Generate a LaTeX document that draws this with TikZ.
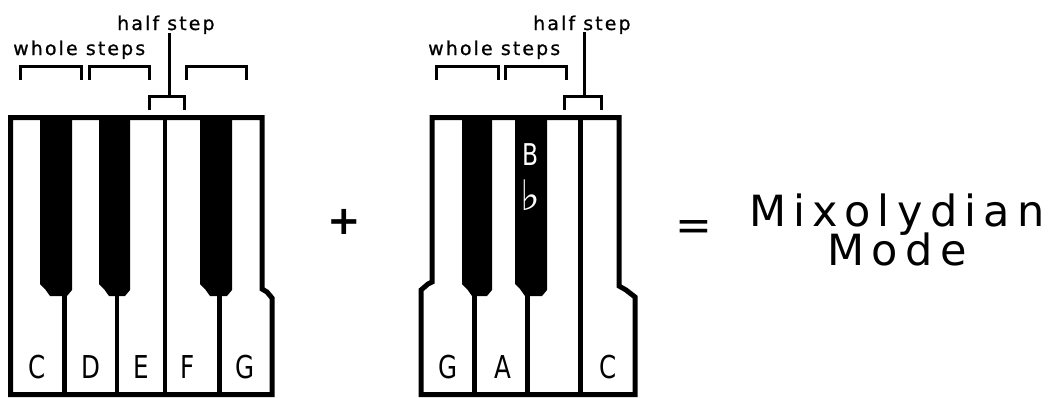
\documentclass[tikz,border=0pt]{standalone}
\usepackage{fontspec}
\setmainfont{DejaVu Sans}
\newfontfamily\stepfont[LetterSpace=11,FakeBold=0.8]{DejaVu Sans}
\newfontfamily\keyfont[FakeStretch=0.78]{DejaVu Sans}
\newfontfamily\bigfont[LetterSpace=17]{DejaVu Sans}
\newfontfamily\plainfont{DejaVu Sans}
\tikzset{
  frame/.style={line width=5pt, fill=white, line join=miter},
  divider/.style={line width=4.5pt},
  blackkey/.style={fill=black, draw=none},
  bracket/.style={line width=3pt, line join=miter},
  steplabel/.style={inner sep=0pt, anchor=base west, font=\stepfont\fontsize{19}{22}\selectfont},
  keylabel/.style={inner sep=0pt, anchor=base, font=\keyfont\fontsize{31.5}{34}\selectfont},
}
\begin{document}
\begin{tikzpicture}[x=1pt,y=-1pt]
\useasboundingbox[fill=white] (0,0) rectangle (1057,397);

% ---------- left keyboard ----------
\draw[frame] (10.5,117.5) -- (262,117.5) -- (262,289) -- (267,292) -- (272,298)
   -- (272,394.5) -- (10.5,394.5) -- cycle;
\draw[divider] (165,117.5) -- (165,394.5);
\draw[divider] (64.5,290) -- (64.5,394.5);
\draw[divider] (117,290) -- (117,394.5);
\draw[divider] (219.5,290) -- (219.5,394.5);
% black keys
\foreach \L/\R in {40/72, 99/130, 200/232}{
  \fill[blackkey] (\L,117.5) -- (\L,284) -- (\L+5,289) -- (\L+10,296) -- (\R-5,296)
     -- (\R,290) -- (\R,117.5) -- cycle;
}
\node[keylabel] (lC) at (37,378) {C};
\node[keylabel] (lD) at (91,378) {D};
\node[keylabel] (lE) at (141,378) {E};
\node[keylabel] (lF) at (188,378) {F};
\node[keylabel] (lG) at (245,378) {G};

% brackets left
\draw[bracket] (20,80) -- (20,66.5) -- (81,66.5) -- (81,80);
\draw[bracket] (89,80) -- (89,66.5) -- (149.5,66.5) -- (149.5,80);
\draw[bracket] (186,80) -- (186,66.5) -- (246.5,66.5) -- (246.5,80);
\draw[bracket] (149.3,110) -- (149.3,96.5) -- (184.5,96.5) -- (184.5,110);
\draw[bracket] (169.5,33) -- (169.5,96.5);
\node[steplabel] (lwhole) at (13,55) {whole steps};
\node[steplabel] (lhalf) at (117,30) {half step};

% plus
\node[inner sep=0pt, font=\plainfont\bfseries\fontsize{40}{44}\selectfont] (plus) at (344,222) {+};

% ---------- right keyboard ----------
\draw[frame] (432,117.5) -- (619,117.5) -- (619,286) -- (626,290) -- (635,297)
   -- (635,394.5) -- (421,394.5) -- (421,290) -- (428,284) -- (432,282) -- cycle;
\draw[divider] (580.5,117.5) -- (580.5,394.5);
\draw[divider] (474.5,290) -- (474.5,394.5);
\draw[divider] (527.5,290) -- (527.5,394.5);
\foreach \L/\R in {462/492, 515/547}{
  \fill[blackkey] (\L,117.5) -- (\L,284) -- (\L+5,289) -- (\L+10,296) -- (\R-5,296)
     -- (\R,290) -- (\R,117.5) -- cycle;
}
\node[keylabel, text=white, font=\keyfont\fontsize{30}{32}\selectfont] (rB) at (531,165) {B};
\node[inner sep=0pt, text=white, font=\plainfont\bfseries\fontsize{42}{44}\selectfont] (rflat) at (530,195) {♭};
\node[keylabel] (rG) at (448,378) {G};
\node[keylabel] (rA) at (503,378) {A};
\node[keylabel] (rC) at (608,378) {C};

% brackets right
\draw[bracket] (436,80) -- (436,66.5) -- (498,66.5) -- (498,80);
\draw[bracket] (505.5,80) -- (505.5,66.5) -- (566.5,66.5) -- (566.5,80);
\draw[bracket] (564.5,110) -- (564.5,96.5) -- (601.5,96.5) -- (601.5,110);
\draw[bracket] (584.5,32) -- (584.5,96.5);
\node[steplabel] (rwhole) at (428,55) {whole steps};
\node[steplabel] (rhalf) at (533,30) {half step};

% ---------- result ----------
\node[inner sep=0pt, anchor=base, font=\plainfont\fontsize{44}{48}\selectfont] (eq) at (694,240) {=};
\node[inner sep=0pt, anchor=north, align=center,
      font={\bigfont\fontsize{43}{39}\selectfont\lineskiplimit=-100pt\lineskip=0pt}]
      (mix) at (897,194) {Mixolydian\\Mode};
\end{tikzpicture}
\end{document}
